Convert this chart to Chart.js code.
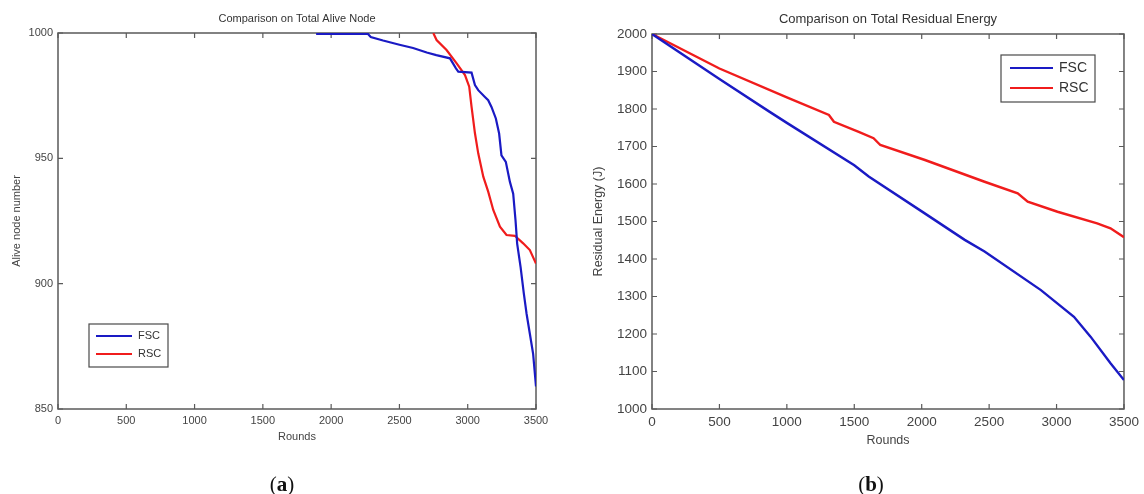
<!DOCTYPE html>
<html>
<head>
<meta charset="utf-8">
<script src="https://cdn.jsdelivr.net/npm/chart.js@4.4.1/dist/chart.umd.min.js"></script>
<style>
  body { margin: 0; background: #fff; width: 1144px; height: 494px; position: relative; overflow: hidden; }
  .box { position: absolute; top: 0; height: 494px; }
  .cap { position: absolute; top: 472px; font-family: "Liberation Serif", "DejaVu Serif", serif; font-size: 21px; color: #111; transform: translateX(-50%); line-height: 24px; }
  .cap b { font-weight: bold; }
</style>
</head>
<body>
<div class="box" style="left:0;width:580px"><canvas id="aliveChart" width="580" height="494"></canvas></div>
<div class="box" style="left:580px;width:564px"><canvas id="energyChart" width="564" height="494"></canvas></div>
<div class="cap" style="left:282px">(<b>a</b>)</div>
<div class="cap" style="left:871px">(<b>b</b>)</div>
<script>
// (a) alive nodes
const fscRoundsA = [1890, 2270, 2290, 2380, 2500, 2600, 2700, 2770, 2870, 2914, 2931, 3028, 3053, 3077, 3126, 3150, 3174, 3206, 3230, 3247, 3279, 3309, 3333, 3350, 3362, 3387, 3411, 3431, 3455, 3479, 3500];
const fscAliveA = [999.6, 999.6, 998.4, 997, 995.3, 994, 992.2, 991.2, 989.9, 985.9, 984.6, 984.2, 979.2, 977.2, 974.5, 973.2, 970.5, 965.9, 959.9, 951.2, 948.6, 940.6, 935.9, 925.3, 916, 906.7, 896, 888, 880, 872, 859];
const rscRoundsA = [2748, 2772, 2845, 2919, 2980, 3011, 3028, 3053, 3077, 3114, 3150, 3187, 3236, 3284, 3345, 3406, 3455, 3500];
const rscAliveA = [1000, 997.2, 993.2, 987.9, 983.2, 978.6, 970.6, 960, 952, 942.7, 936.7, 929.4, 922.7, 919.4, 919.1, 916.1, 913.4, 908];

// (b) residual energy
const fscRoundsB = [0, 500, 870, 1000, 1500, 1607, 2000, 2319, 2466, 2884, 3129, 3252, 3400, 3500];
const fscEnergyB = [2000, 1880, 1793, 1763, 1650, 1620, 1527, 1451, 1420, 1317, 1246, 1193, 1122, 1077];
const rscRoundsB = [0, 500, 1000, 1312, 1349, 1533, 1643, 1693, 2024, 2466, 2712, 2786, 3007, 3301, 3400, 3500];
const rscEnergyB = [2000, 1908, 1831, 1784, 1766, 1739, 1722, 1704, 1664, 1606, 1575, 1553, 1526, 1495, 1482, 1458];

const seriesNames = ["FSC", "RSC"];
const blue = "#1a1ac4";
const red = "#f01c1c";

function pts(xs, ys) {
  return xs.map((x, i) => ({ x: x, y: ys[i] }));
}

// MATLAB style box with inward ticks, plus an in-plot legend
const matlabAxes = {
  id: "matlabAxes",
  beforeDatasetsDraw(chart, args, opts) {
    const { ctx, chartArea: a, scales } = chart;
    ctx.save();
    ctx.strokeStyle = "#5a5a5a";
    ctx.lineWidth = 1.5;
    ctx.strokeRect(a.left, a.top, a.right - a.left, a.bottom - a.top);
    ctx.lineWidth = 1.2;
    ctx.beginPath();
    scales.x.ticks.forEach((t) => {
      const px = scales.x.getPixelForValue(t.value);
      ctx.moveTo(px, a.bottom); ctx.lineTo(px, a.bottom - opts.tick);
      ctx.moveTo(px, a.top); ctx.lineTo(px, a.top + opts.tick);
    });
    scales.y.ticks.forEach((t) => {
      const py = scales.y.getPixelForValue(t.value);
      ctx.moveTo(a.left, py); ctx.lineTo(a.left + opts.tick, py);
      ctx.moveTo(a.right, py); ctx.lineTo(a.right - opts.tick, py);
    });
    ctx.stroke();
    ctx.restore();
  },
  afterDatasetsDraw(chart, args, opts) {
    const { ctx } = chart;
    const lg = opts.legend;
    ctx.save();
    ctx.fillStyle = "#fff";
    ctx.fillRect(lg.x, lg.y, lg.w, lg.h);
    ctx.strokeStyle = "#4a4a4a";
    ctx.lineWidth = 1.2;
    ctx.strokeRect(lg.x, lg.y, lg.w, lg.h);
    ctx.font = lg.font + "px 'Liberation Sans', Arial, sans-serif";
    ctx.textBaseline = "middle";
    chart.data.datasets.forEach((ds, i) => {
      const y = lg.y + lg.row0 + i * lg.gap;
      ctx.strokeStyle = ds.borderColor;
      ctx.lineWidth = 2;
      ctx.beginPath();
      ctx.moveTo(lg.x + lg.l0, y);
      ctx.lineTo(lg.x + lg.l1, y);
      ctx.stroke();
      ctx.fillStyle = "#333";
      ctx.fillText(ds.label, lg.x + lg.tx, y);
    });
    ctx.restore();
  }
};

function makeChart(el, cfg) {
  const f = "'Liberation Sans', Arial, sans-serif";
  return new Chart(el, {
    type: "line",
    data: {
      datasets: [
        { label: seriesNames[0], data: cfg.fsc, borderColor: blue, borderWidth: cfg.lw, pointRadius: 0, tension: 0 },
        { label: seriesNames[1], data: cfg.rsc, borderColor: red, borderWidth: cfg.lw, pointRadius: 0, tension: 0 }
      ]
    },
    options: {
      responsive: false,
      animation: false,
      layout: { padding: { left: 0, top: 0, right: cfg.padRight, bottom: cfg.padBottom } },
      plugins: {
        legend: { display: false },
        tooltip: { enabled: false },
        title: {
          display: true, text: cfg.title, fullSize: false, color: "#333",
          font: { family: f, size: cfg.titleSize, weight: "normal" },
          padding: { top: cfg.titlePadTop, bottom: cfg.titlePadBottom }
        },
        matlabAxes: { tick: 5, legend: cfg.legend }
      },
      scales: {
        x: {
          type: "linear", min: 0, max: 3500,
          grid: { display: false, drawTicks: false },
          border: { display: false },
          ticks: { stepSize: 500, color: "#444", padding: 5, maxRotation: 0, font: { family: f, size: cfg.tickSize }, callback: (v) => String(v) },
          title: { display: true, text: "Rounds", color: "#444", font: { family: f, size: cfg.axisSize }, padding: { top: 0, bottom: cfg.xTitlePad } },
          afterFit: (s) => { s.height = cfg.xHeight; }
        },
        y: {
          min: cfg.yMin, max: cfg.yMax,
          grid: { display: false, drawTicks: false },
          border: { display: false },
          ticks: { stepSize: cfg.yStep, color: "#444", padding: 5, font: { family: f, size: cfg.tickSize }, callback: (v) => String(v) },
          title: { display: true, text: cfg.yTitle, color: "#444", font: { family: f, size: cfg.axisSize }, padding: { top: cfg.yTitlePad, bottom: 0 } },
          afterFit: (s) => { s.width = cfg.yWidth; }
        }
      }
    },
    plugins: [matlabAxes]
  });
}

makeChart(document.getElementById("aliveChart"), {
  fsc: pts(fscRoundsA, fscAliveA),
  rsc: pts(rscRoundsA, rscAliveA),
  lw: 2.2,
  title: "Comparison on Total Alive Node",
  titleSize: 11, titlePadTop: 12.4, titlePadBottom: 7.4,
  tickSize: 11, axisSize: 11,
  yTitle: "Alive node number",
  yMin: 850, yMax: 1000, yStep: 50,
  yWidth: 58, yTitlePad: 10.8,
  xHeight: 40, xTitlePad: 5.4,
  padRight: 44, padBottom: 45,
  legend: { x: 89, y: 324, w: 79, h: 43, row0: 12, gap: 18, l0: 7, l1: 43, tx: 49, font: 11 }
});

makeChart(document.getElementById("energyChart"), {
  fsc: pts(fscRoundsB, fscEnergyB),
  rsc: pts(rscRoundsB, rscEnergyB),
  lw: 2.4,
  title: "Comparison on Total Residual Energy",
  titleSize: 13, titlePadTop: 11.2, titlePadBottom: 7.2,
  tickSize: 13.5, axisSize: 12.5,
  yTitle: "Residual Energy (J)",
  yMin: 1000, yMax: 2000, yStep: 100,
  yWidth: 72, yTitlePad: 11.5,
  xHeight: 45, xTitlePad: 5.9,
  padRight: 17, padBottom: 40,
  legend: { x: 421, y: 55, w: 94, h: 47, row0: 13, gap: 20, l0: 9, l1: 52, tx: 58, font: 14 }
});
</script>
</body>
</html>
